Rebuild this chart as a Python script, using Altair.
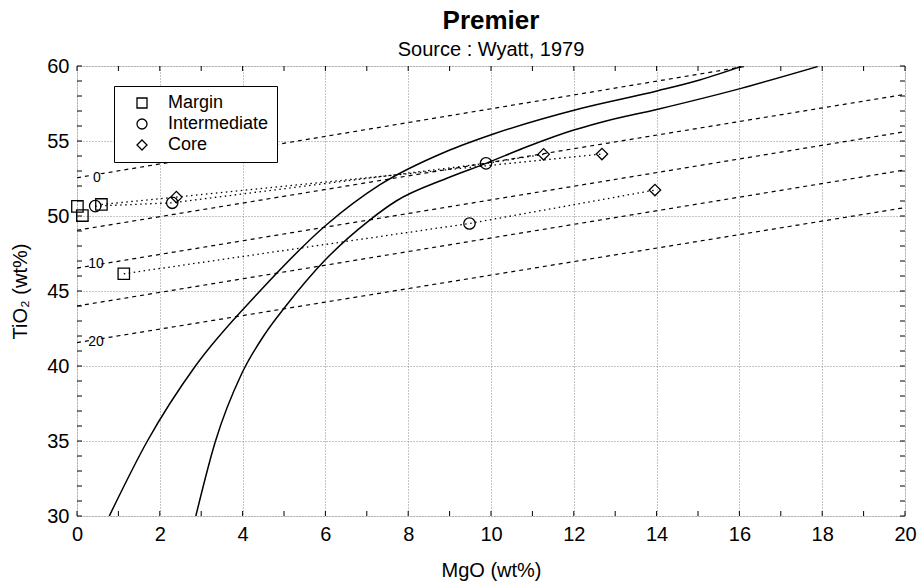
import altair as alt
import pandas as pd

# ---------------- data ----------------
# Sample points: MgO (x) and TiO2 (y)
margin_x = [0.01, 0.13, 0.59, 1.13]
margin_y = [50.64, 50.03, 50.77, 46.15]
inter_x = [0.44, 2.30, 9.88, 9.48]
inter_y = [50.66, 50.88, 53.51, 49.50]
core_x = [2.40, 11.27, 12.68, 13.96]
core_y = [51.26, 54.11, 54.13, 51.73]

# Dotted tie lines between zones of the same grain
tie1_x = [0.59, 2.40, 12.68]
tie1_y = [50.77, 51.26, 54.13]
tie2_x = [0.44, 2.30, 9.88, 11.27]
tie2_y = [50.66, 50.88, 53.51, 54.11]
tie3_x = [1.13, 9.48, 13.96]
tie3_y = [46.15, 49.50, 51.73]

# Solid curves
curveA_x = [0.78, 1.70, 2.86, 4.42, 6.02, 7.31, 8.92, 10.04, 12.14, 14.03, 15.04, 16.04]
curveA_y = [30.0, 35.0, 40.0, 45.0, 49.4, 52.07, 54.3, 55.45, 57.15, 58.35, 59.07, 59.96]
curveB_x = [2.87, 3.34, 3.98, 4.55, 5.03, 5.97, 7.07, 7.71, 8.92, 9.88, 10.9,
            12.0, 12.62, 14.03, 16.04, 17.89]
curveB_y = [30.0, 34.95, 39.5, 42.18, 43.95, 47.0, 49.73, 51.0, 52.5, 53.51, 54.65,
            55.73, 56.22, 57.12, 58.51, 59.96]

# Dashed isopleths (start and end points)
iso_names = ["0", "5", "10", "15", "20"]
iso_x0 = [0, 0, 0, 0, 0]
iso_y0 = [52.55, 49.05, 46.53, 44.0, 41.56]
iso_x1 = [16.2, 20, 20, 20, 20]
iso_y1 = [60.0, 58.11, 55.62, 53.07, 50.56]

# Isopleth labels
lab_text = ["0", "10", "20"]
lab_x = [0.48, 0.46, 0.46]
lab_y = [52.55, 46.8, 41.6]

# Minor tick positions
x_minor = list(range(0, 21))
y_minor = list(range(30, 61))
x_major = list(range(0, 21, 2))
y_major = list(range(30, 61, 5))

# ---------------- tables ----------------
pts = pd.DataFrame({
    "x": margin_x + inter_x + core_x,
    "y": margin_y + inter_y + core_y,
    "type": ["Margin"] * 4 + ["Intermediate"] * 4 + ["Core"] * 4,
})

def poly(name, xs, ys):
    return pd.DataFrame({"x": xs, "y": ys, "id": name, "i": list(range(len(xs)))})

ties = pd.concat([poly("t1", tie1_x, tie1_y), poly("t2", tie2_x, tie2_y),
                  poly("t3", tie3_x, tie3_y)])
curves = pd.concat([poly("A", curveA_x, curveA_y), poly("B", curveB_x, curveB_y)])
iso = pd.concat([poly("iso" + n, [a, b], [c, d])
                 for n, a, b, c, d in zip(iso_names, iso_x0, iso_x1, iso_y0, iso_y1)])
labs = pd.DataFrame({"x": lab_x, "y": lab_y, "t": lab_text})
xt = pd.DataFrame({"x": x_minor})
yt = pd.DataFrame({"y": y_minor})

# ---------------- encodings ----------------
W, H = 828, 450
FONT = "Liberation Sans"
xs = alt.Scale(domain=[0, 20], nice=False, zero=False)
ys = alt.Scale(domain=[30, 60], nice=False, zero=False)
x_axis = alt.Axis(values=x_major, grid=True, gridColor="#8a8a8a", gridDash=[1, 2],
                  gridWidth=1, ticks=False, domain=False, labelFont=FONT,
                  labelFontSize=20, labelColor="black", labelPadding=8,
                  titleFont=FONT, titleFontSize=20, titleFontWeight="normal",
                  titleColor="black", titlePadding=16, labelFlush=False)
y_axis = alt.Axis(values=y_major, grid=True, gridColor="#8a8a8a", gridDash=[1, 2],
                  gridWidth=1, ticks=False, domain=False, labelFont=FONT,
                  labelFontSize=20, labelColor="black", labelPadding=8,
                  titleFont=FONT, titleFontSize=20, titleFontWeight="normal",
                  titleColor="black", titlePadding=16, labelFlush=False)

def X(f="x"):
    return alt.X(f, type="quantitative", scale=xs, axis=x_axis, title="MgO (wt%)")

def Y(f="y"):
    return alt.Y(f, type="quantitative", scale=ys, axis=y_axis, title="TiO₂ (wt%)")

iso_layer = alt.Chart(iso).mark_line(color="black", strokeWidth=1.2,
                                     strokeDash=[4, 4], clip=True).encode(
    x=X(), y=Y(), detail="id:N", order="i:Q")

lab_bg = alt.Chart(labs).mark_point(shape="M-1,-0.7L1,-0.7L1,0.7L-1,0.7Z", filled=True,
                                    color="white", opacity=1, size=110).encode(
    x=X(), y=Y())
lab_layer = alt.Chart(labs).mark_text(font=FONT, fontSize=14, color="black",
                                      align="center", baseline="middle").encode(
    x=X(), y=Y(), text="t:N")

tie_layer = alt.Chart(ties).mark_line(color="black", strokeWidth=1.3,
                                      strokeDash=[1.5, 3.5]).encode(
    x=X(), y=Y(), detail="id:N", order="i:Q")

curve_layer = alt.Chart(curves).mark_line(color="black", strokeWidth=1.5, clip=True,
                                          interpolate="monotone").encode(
    x=X(), y=Y(), detail="id:N", order="i:Q")

pt_layer = alt.Chart(pts).mark_point(filled=False, color="black", strokeWidth=1.3,
                                     size=130, opacity=1).encode(
    x=X(), y=Y(),
    shape=alt.Shape("type:N",
                    scale=alt.Scale(domain=["Margin", "Intermediate", "Core"],
                                    range=["square", "circle", "diamond"]),
                    legend=alt.Legend(title=None, orient="none", legendX=37, legendY=20,
                                      strokeColor="black", fillColor="white",
                                      padding=8, symbolOffset=11, labelOffset=17,
                                      rowPadding=3, symbolSize=100,
                                      symbolStrokeWidth=1.3, symbolStrokeColor="black",
                                      labelFont=FONT, labelFontSize=18,
                                      labelColor="black")))

tick_bottom = alt.Chart(xt).mark_rule(color="black", strokeWidth=1).encode(
    x=X(), y=alt.value(H), y2=alt.value(H - 5))
tick_top = alt.Chart(xt).mark_rule(color="black", strokeWidth=1).encode(
    x=X(), y=alt.value(0), y2=alt.value(5))
tick_left = alt.Chart(yt).mark_rule(color="black", strokeWidth=1).encode(
    y=Y(), x=alt.value(0), x2=alt.value(5))
tick_right = alt.Chart(yt).mark_rule(color="black", strokeWidth=1).encode(
    y=Y(), x=alt.value(W), x2=alt.value(W - 5))

chart = alt.layer(
    iso_layer, lab_bg, lab_layer, tie_layer, curve_layer, pt_layer,
    tick_bottom, tick_top, tick_left, tick_right,
).properties(
    width=W, height=H,
    title=alt.TitleParams(text="Premier", subtitle="Source : Wyatt, 1979",
                          font=FONT, fontSize=26, fontWeight="bold", color="black",
                          subtitleFont=FONT, subtitleFontSize=20,
                          subtitleColor="black", anchor="middle", offset=-4,
                          subtitlePadding=6),
    autosize=alt.AutoSizeParams(type="none"),
    padding={"left": 77, "top": 66, "right": 12, "bottom": 68},
).configure_view(stroke="black", strokeWidth=1.5).configure(background="white")

chart.save("out.html", embed_options={"renderer": "svg", "actions": False})
